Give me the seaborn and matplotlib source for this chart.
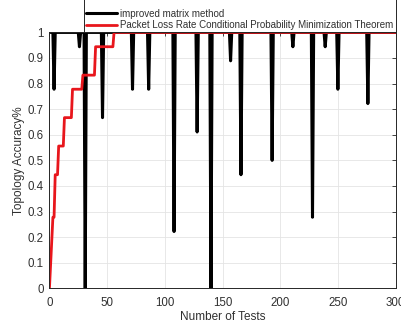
import numpy as np
import pandas as pd
import seaborn as sns
import matplotlib.pyplot as plt
from matplotlib.patches import Rectangle

# improved matrix method: accuracy is 1 except at these tests
spike_tests = [4, 26, 31, 46, 72, 86, 108, 128, 140, 157, 166, 193, 211, 228, 239, 250, 276]
spike_vals = [0.778, 0.944, 0.0, 0.667, 0.778, 0.778, 0.222, 0.611, 0.0, 0.889,
              0.444, 0.5, 0.944, 0.278, 0.944, 0.778, 0.722]
n_tests = 300

# packet loss rate method: breakpoints of the staircase
plr_tests = [0, 3, 4, 5, 7, 8, 12, 13, 19, 20, 28, 29, 39, 40, 55, 56, 300]
plr_vals = [0.0, 0.278, 0.278, 0.444, 0.444, 0.556, 0.556, 0.667, 0.667, 0.778,
            0.778, 0.833, 0.833, 0.944, 0.944, 1.0, 1.0]

x_ticks = [0, 50, 100, 150, 200, 250, 300]
y_ticks = [0, 0.1, 0.2, 0.3, 0.4, 0.5, 0.6, 0.7, 0.8, 0.9, 1]
y_ticklabels = ["0", "0.1", "0.2", "0.3", "0.4", "0.5", "0.6", "0.7", "0.8", "0.9", "1"]

tests = np.arange(1, n_tests + 1)
acc = np.ones(n_tests)
for t, v in zip(spike_tests, spike_vals):
    acc[t - 1] = v
df_imp = pd.DataFrame({"test": tests, "acc": acc})
df_plr = pd.DataFrame({"test": plr_tests, "acc": plr_vals})

sns.set_style("whitegrid", {"grid.color": "#e4e4e4", "axes.edgecolor": "#262626"})
plt.rcParams['font.family'] = ['Liberation Sans', 'DejaVu Sans']

fig = plt.figure(figsize=(4.02, 3.24), dpi=100)
ax = fig.add_axes([0.123, 0.110, 0.861, 0.790])

sns.lineplot(data=df_imp, x="test", y="acc", ax=ax, color="black", linewidth=2.2,
             label="improved matrix method", estimator=None, sort=False)
sns.lineplot(data=df_plr, x="test", y="acc", ax=ax, color="#e8161c", linewidth=2.0,
             label="Packet Loss Rate Conditional Probability Minimization Theorem",
             estimator=None, sort=False)

ax.set_xlim(0, 300)
ax.set_ylim(0, 1)
ax.set_xticks(x_ticks)
ax.set_yticks(y_ticks)
ax.set_yticklabels(y_ticklabels)
ax.tick_params(axis="both", labelsize=8.3, colors="#262626", direction="in",
               length=3, width=0.6, top=True, right=True)
ax.tick_params(axis="x", pad=6)
ax.tick_params(axis="y", pad=4)
ax.tick_params(axis="both", labelcolor="#303030")
for s in ax.spines.values():
    s.set_linewidth(0.7)
    s.set_color("#262626")
ax.grid(True, color="#e4e4e4", linewidth=0.6)
ax.set_xlabel("Number of Tests", fontsize=8.5, color="#303030", labelpad=2)
ax.set_ylabel("Topology Accuracy%", fontsize=8.5, color="#303030", labelpad=2)

# legend sits above the axes; its box runs off the top of the figure
leg = ax.legend(loc="lower left", bbox_to_anchor=(0.0997, 1.0), borderaxespad=0,
                fontsize=7, handlelength=3.1, handletextpad=0.4, borderpad=0.25,
                labelspacing=0.12, frameon=False)
for t in leg.get_texts():
    t.set_color("#303030")
ax.add_patch(Rectangle((0.0997, 1.0), 0.9003, 0.3, transform=ax.transAxes,
                       facecolor="white", edgecolor="#262626", linewidth=0.7,
                       clip_on=False, zorder=0.5))

fig.savefig("out.png", dpi=100)
